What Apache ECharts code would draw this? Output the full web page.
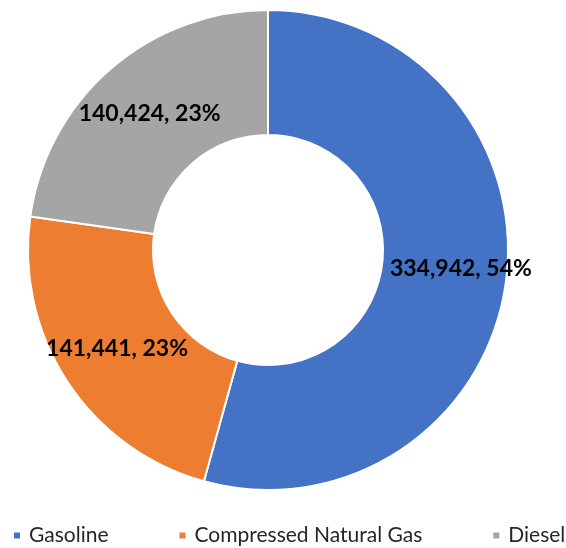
<!DOCTYPE html>
<html lang="en">
<head>
    <meta charset="UTF-8">
    <title>Fuel</title>
    <script src="https://cdn.jsdelivr.net/npm/echarts@6/dist/echarts.min.js"></script>
</head>
<body style="margin:0; background:#fff;">
    <div id="main" style="width: 566px; height: 548px;"></div>
    <script>
    // 燃料类型
    var categories = ['Gasoline', 'Compressed Natural Gas', 'Diesel'];
    var values = [334942, 141441, 140424];
    var colors = ['#4472C4', '#ED7D31', '#A5A5A5'];

    var myChart = echarts.init(document.getElementById('main'));

    var total = values.reduce(function (a, b) { return a + b; }, 0);
    var pieData = [];
    for (var i = 0; i < categories.length; i++) {
        pieData.push({
            name: categories[i],
            value: values[i],
            itemStyle: { color: colors[i] }
        });
    }
    // Excel 把第一个标签稍微往右上挪了一点
    pieData[0].label = { offset: [14, -6] };

    var option = {
        animation: false,
        backgroundColor: '#fff',
        legend: {
            top: 525,
            left: 12,
            width: 554,
            padding: 0,
            itemWidth: 8,
            itemHeight: 8,
            itemGap: 69,
            icon: 'rect',
            textStyle: {
                fontFamily: 'Lato',
                fontSize: 21,
                color: '#262626',
                padding: [0, 0, 0, 3]
            },
            data: categories
        },
        series: [{
            type: 'pie',
            center: [268, 250],
            radius: [115, 240],
            startAngle: 90,
            clockwise: true,
            itemStyle: {
                borderColor: '#fff',
                borderWidth: 2
            },
            label: {
                show: true,
                position: 'inside',
                fontFamily: 'Lato',
                fontWeight: 'bold',
                fontSize: 23,
                color: '#000',
                formatter: function (p) {
                    return p.value.toLocaleString('en-US') + ', ' + Math.round(p.value / total * 100) + '%';
                }
            },
            labelLine: { show: false },
            data: pieData
        }]
    };
    myChart.setOption(option);
    </script>
</body>
</html>
